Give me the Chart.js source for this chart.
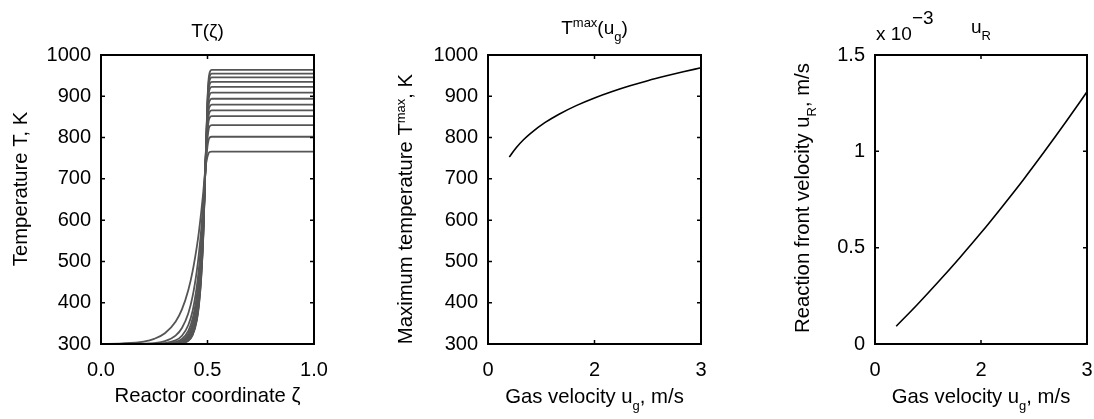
<!DOCTYPE html>
<html>
<head>
<meta charset="utf-8">
<script src="https://cdn.jsdelivr.net/npm/chart.js@4.4.1/dist/chart.umd.min.js"></script>
<style>
  html, body { margin: 0; padding: 0; background: #fff; }
  #figure { position: relative; width: 1094px; height: 419px; overflow: hidden; }
  #figure canvas { position: absolute; left: 0; top: 0; }
</style>
</head>
<body>
<div id="figure">
  <canvas id="profiles" width="1094" height="419"></canvas>
  <canvas id="tmax" width="1094" height="419"></canvas>
  <canvas id="front" width="1094" height="419"></canvas>
</div>
<script>
// ---- Temperature profiles T(zeta) along the reactor ----
const profileZeta = [0, 0.1, 0.2, 0.25, 0.3, 0.35, 0.38, 0.41, 0.43, 0.45, 0.46, 0.47, 0.48, 0.49, 0.5, 0.505, 0.51, 0.52, 0.53, 1.0];
const profileT766 = [300, 301.4, 306.0, 312.5, 326, 354, 384, 431, 476, 536, 573, 617, 667, 725, 754, 762, 765, 766, 766, 766];
const profileT802 = [300, 300.1, 300.8, 302.3, 306.8, 320.3, 338.9, 374.7, 415.3, 478, 521, 575, 642, 725, 779, 794, 800, 802, 802, 802];
const profileT830 = [300, 300, 300.1, 300.5, 302.2, 308.7, 320, 346, 380, 440, 485, 544, 622, 725, 798, 819, 827, 830, 830, 830];
const profileT852 = [300, 300, 300, 300.2, 300.9, 304.6, 312.2, 332, 361, 417, 461, 523, 608, 725, 814, 839, 848, 852, 852, 852];
const profileT866 = [300, 300, 300, 300.1, 300.5, 302.8, 308.4, 324.4, 349.8, 401.9, 445.6, 508, 597, 725, 824, 852, 862, 866, 866, 866];
const profileT880 = [300, 300, 300, 300, 300.3, 302, 306.2, 319.6, 342.3, 391.3, 434, 497, 589, 725, 834, 865, 875, 880, 880, 880];
const profileT894 = [300, 300, 300, 300, 300.2, 301.6, 305.2, 317.3, 338.5, 385.8, 428, 491, 585, 725, 843, 877, 889, 894, 894, 894];
const profileT909 = [300, 300, 300, 300, 300.1, 301.2, 304.3, 315.2, 334.9, 380.3, 421.8, 484.7, 580.2, 725, 854, 891, 904, 909, 909, 909];
const profileT923 = [300, 300, 300, 300, 300, 301, 303.6, 313.1, 331.3, 374.7, 415.3, 478, 575, 725, 864, 903, 917, 923, 923, 923];
const profileT935 = [300, 300, 300, 300, 300, 300.7, 302.9, 311.2, 327.8, 369, 408.7, 471.2, 569.8, 725, 872, 914, 929, 935, 935, 935];
const profileT946 = [300, 300, 300, 300, 300, 300.5, 302.3, 309.4, 324.4, 363.3, 401.9, 464, 564, 725, 880, 924, 939, 946, 946, 946];
const profileT955 = [300, 300, 300, 300, 300, 300.4, 302, 308.6, 322.8, 360.4, 398.4, 460, 561, 725, 886, 932, 948, 955, 955, 955];
const profileT964 = [300, 300, 300, 300, 300, 300.3, 301.7, 307.8, 321.2, 357.5, 394.8, 456.4, 557.8, 725, 892, 940, 957, 964, 964, 964];
const temperatureProfiles = [profileT766, profileT802, profileT830, profileT852, profileT866, profileT880,
  profileT894, profileT909, profileT923, profileT935, profileT946, profileT955, profileT964];

// ---- Maximum temperature vs gas velocity ----
const tmaxVelocity = [0.3, 0.4, 0.5, 0.6, 0.8, 1.0, 1.25, 1.5, 1.75, 2.0, 2.25, 2.5, 2.75, 3.0];
const tmaxValues   = [753, 776.1, 794.7, 810.3, 836.0, 856.6, 878.0, 896.0, 911.6, 925.4, 937.8, 949.0, 959.4, 969.0];

// ---- Reaction front velocity vs gas velocity (units of 1e-3 m/s) ----
const frontGasVelocity = [0.3, 0.6, 0.9, 1.2, 1.5, 1.8, 2.1, 2.4, 2.7, 3.0];
const frontVelocityE3  = [0.092, 0.205, 0.324, 0.448, 0.577, 0.713, 0.853, 1.000, 1.152, 1.309];

// ---- Tick values and labels ----
const zetaTicks = [0, 0.5, 1.0];
const zetaTickLabels = ['0.0', '0.5', '1.0'];
const tempTicks = [300, 400, 500, 600, 700, 800, 900, 1000];
const tempTickLabels = ['300', '400', '500', '600', '700', '800', '900', '1000'];
const gasTicks = [0, 1.5, 3];
const gasTickLabels = ['0', '2', '3'];
const frontTicks = [0, 0.5, 1, 1.5];
const frontTickLabels = ['0', '0.5', '1', '1.5'];

const W = 1094, H = 419;
const FONT = '"Liberation Sans", Arial, Helvetica, sans-serif';
const TICK_SIZE = 20, LABEL_SIZE = 20.3, TITLE_SIZE = 19, SMALL = 13;
const Y_AXIS_W = 80, X_AXIS_H = 45;

function drawRich(ctx, segs, x, y, align, mainSize) {
  let w = 0;
  const parts = segs.map(([t, k]) => {
    const size = (k === 'sub' || k === 'sup') ? SMALL : mainSize;
    ctx.font = size + 'px ' + FONT;
    const pw = ctx.measureText(t).width;
    w += pw;
    return { t, k, size, pw };
  });
  let cx = align === 'center' ? x - w / 2 : x;
  ctx.textAlign = 'left';
  ctx.textBaseline = 'alphabetic';
  parts.forEach(p => {
    ctx.font = p.size + 'px ' + FONT;
    const dy = p.k === 'sub' ? 7 : p.k === 'sup' ? -7 : p.k === 'exp' ? -16 : 0;
    ctx.fillText(p.t, cx, y + dy);
    cx += p.pw;
  });
}

// Box frame, inward tick marks on all sides, titles and axis labels
const figurePlugin = {
  id: 'figureText',
  afterDraw(chart, args, o) {
    const { ctx, chartArea: a, scales: { x, y } } = chart;
    ctx.save();
    ctx.strokeStyle = '#000';
    ctx.lineWidth = 1.5;
    const L = 4;
    ctx.beginPath();
    x.ticks.forEach(t => {
      const px = x.getPixelForValue(t.value);
      ctx.moveTo(px, a.bottom); ctx.lineTo(px, a.bottom - L);
      ctx.moveTo(px, a.top); ctx.lineTo(px, a.top + L);
    });
    y.ticks.forEach(t => {
      const py = y.getPixelForValue(t.value);
      ctx.moveTo(a.left, py); ctx.lineTo(a.left + L, py);
      ctx.moveTo(a.right, py); ctx.lineTo(a.right - L, py);
    });
    ctx.stroke();
    ctx.lineWidth = 2;
    ctx.strokeRect(a.left, a.top, a.right - a.left, a.bottom - a.top);

    ctx.fillStyle = '#000';
    const cxm = (a.left + a.right) / 2;
    drawRich(ctx, o.title, cxm, o.titleY, 'center', TITLE_SIZE);
    drawRich(ctx, o.xLabel, cxm, o.xLabelY, 'center', LABEL_SIZE);
    ctx.save();
    ctx.translate(o.yLabelX, o.yLabelCY);
    ctx.rotate(-Math.PI / 2);
    drawRich(ctx, o.yLabel, 0, 0, 'center', LABEL_SIZE);
    ctx.restore();
    if (o.exponent) drawRich(ctx, o.exponent, o.exponentX, o.exponentY, 'left', TITLE_SIZE);
    ctx.restore();
  }
};

function axis(min, max, ticks, labels, horizontal, pad) {
  return {
    type: 'linear', min, max,
    afterFit(s) {
      if (horizontal) s.height = X_AXIS_H; else s.width = Y_AXIS_W;
      // plot boxes are placed by layout padding alone
      s.paddingLeft = 0; s.paddingRight = 0; s.paddingTop = 0; s.paddingBottom = 0;
    },
    afterBuildTicks(s) { s.ticks = ticks.map(v => ({ value: v })); },
    grid: { display: false, drawTicks: false },
    border: { display: false },
    ticks: {
      padding: pad, color: '#000', maxRotation: 0, autoSkip: false,
      font: { family: FONT, size: TICK_SIZE },
      callback: (v, i) => labels[i]
    }
  };
}

function makeChart(id, area, datasets, xs, ys, text) {
  return new Chart(document.getElementById(id), {
    type: 'line',
    data: { datasets },
    options: {
      responsive: false, animation: false, events: [],
      layout: { padding: { left: area[0] - Y_AXIS_W, right: W - area[1], top: area[2], bottom: H - area[3] - X_AXIS_H } },
      scales: { x: xs, y: ys },
      elements: { point: { radius: 0 }, line: { cubicInterpolationMode: 'monotone' } },
      plugins: { legend: { display: false }, tooltip: { enabled: false }, title: { display: false }, figureText: text }
    },
    plugins: [figurePlugin]
  });
}

// T(zeta)
makeChart('profiles', [101, 314, 55, 344],
  temperatureProfiles.map(p => ({
    data: profileZeta.map((z, i) => ({ x: z, y: p[i] })),
    borderColor: '#555555', borderWidth: 1.8, fill: false
  })),
  axis(0, 1, zetaTicks, zetaTickLabels, true, 14),
  axis(300, 1000, tempTicks, tempTickLabels, false, 10),
  {
    title: [['T(ζ)', '']], titleY: 37,
    xLabel: [['Reactor coordinate ζ', '']], xLabelY: 402,
    yLabel: [['Temperature T, K', '']], yLabelX: 27, yLabelCY: 189
  });

// Tmax(u_g)
makeChart('tmax', [488, 701, 55, 344],
  [{ data: tmaxVelocity.map((u, i) => ({ x: u, y: tmaxValues[i] })), borderColor: '#000', borderWidth: 1.6, fill: false }],
  axis(0, 3, gasTicks, gasTickLabels, true, 14),
  axis(300, 1000, tempTicks, tempTickLabels, false, 10),
  {
    title: [['T', ''], ['max', 'sup'], ['(u', ''], ['g', 'sub'], [')', '']], titleY: 33.5,
    xLabel: [['Gas velocity u', ''], ['g', 'sub'], [', m/s', '']], xLabelY: 403,
    yLabel: [['Maximum temperature T', ''], ['max', 'sup'], [', K', '']], yLabelX: 412, yLabelCY: 209
  });

// u_R(u_g)
makeChart('front', [875, 1087, 55, 344],
  [{ data: frontGasVelocity.map((u, i) => ({ x: u, y: frontVelocityE3[i] })), borderColor: '#000', borderWidth: 1.6, fill: false }],
  axis(0, 3, gasTicks, gasTickLabels, true, 14),
  axis(0, 1.5, frontTicks, frontTickLabels, false, 10),
  {
    title: [['u', ''], ['R', 'sub']], titleY: 33,
    xLabel: [['Gas velocity u', ''], ['g', 'sub'], [', m/s', '']], xLabelY: 403,
    yLabel: [['Reaction front velocity u', ''], ['R', 'sub'], [', m/s', '']], yLabelX: 809, yLabelCY: 198,
    exponent: [['x 10', ''], ['−3', 'exp']], exponentX: 876, exponentY: 40
  });
</script>
</body>
</html>
